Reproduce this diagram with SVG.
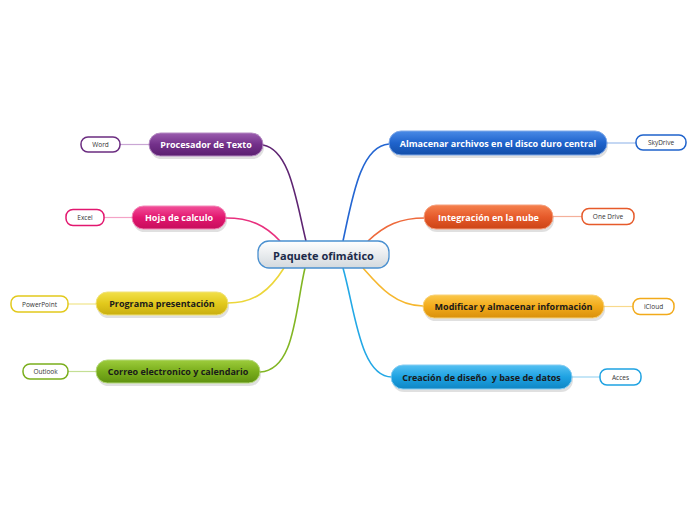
<svg xmlns="http://www.w3.org/2000/svg" width="696" height="520" viewBox="0 0 696 520">
<defs>
<linearGradient id="gc" x1="0" y1="0" x2="0" y2="1"><stop offset="0" stop-color="#ffffff"/><stop offset="1" stop-color="#d3d9de"/></linearGradient>
<linearGradient id="gPur" x1="0" y1="0" x2="0" y2="1"><stop offset="0" stop-color="#9a5cae"/><stop offset="0.5" stop-color="#73308a"/><stop offset="1" stop-color="#5b1f70"/></linearGradient>
<linearGradient id="gPink" x1="0" y1="0" x2="0" y2="1"><stop offset="0" stop-color="#f2509a"/><stop offset="0.5" stop-color="#e2176f"/><stop offset="1" stop-color="#c70d5c"/></linearGradient>
<linearGradient id="gYel" x1="0" y1="0" x2="0" y2="1"><stop offset="0" stop-color="#f2e04a"/><stop offset="0.5" stop-color="#e2c91c"/><stop offset="1" stop-color="#c9ae10"/></linearGradient>
<linearGradient id="gGrn" x1="0" y1="0" x2="0" y2="1"><stop offset="0" stop-color="#9dcc3c"/><stop offset="0.5" stop-color="#7aae1c"/><stop offset="1" stop-color="#5f9110"/></linearGradient>
<linearGradient id="gBlu" x1="0" y1="0" x2="0" y2="1"><stop offset="0" stop-color="#4a8ae6"/><stop offset="0.5" stop-color="#1f63cc"/><stop offset="1" stop-color="#134ea8"/></linearGradient>
<linearGradient id="gOrR" x1="0" y1="0" x2="0" y2="1"><stop offset="0" stop-color="#f5814e"/><stop offset="0.5" stop-color="#e65a2a"/><stop offset="1" stop-color="#cc4416"/></linearGradient>
<linearGradient id="gOr" x1="0" y1="0" x2="0" y2="1"><stop offset="0" stop-color="#fbc84a"/><stop offset="0.5" stop-color="#f2aa1a"/><stop offset="1" stop-color="#d9900c"/></linearGradient>
<linearGradient id="gLB" x1="0" y1="0" x2="0" y2="1"><stop offset="0" stop-color="#55c0f2"/><stop offset="0.5" stop-color="#1ea2e2"/><stop offset="1" stop-color="#0e86c4"/></linearGradient>
</defs>
<style>
text{font-family:"Open Sans","Noto Sans","Liberation Sans",sans-serif;text-anchor:middle;dominant-baseline:central;white-space:pre}
.m{font-size:9px;font-weight:bold}
.w{fill:#ffffff}
.d{fill:#1a1a1a}
.s{font-size:6.5px;fill:#333333}
.sub{fill:#ffffff;stroke-width:1.5}
.main{stroke-width:1}
.shadow{fill:#000000;opacity:0.12}
.c{fill:none;stroke-width:1.6}
.l{fill:none;stroke-width:1.2}
</style>
<g id="connectors">
<path class="c" d="M306,241 C296,200 290,150 263,145" stroke="#5e2472"/>
<path class="c" d="M280,241 C265,225 250,218 226,218" stroke="#e8307e"/>
<path class="c" d="M284,268 C270,290 255,303 228,303" stroke="#ecd63a"/>
<path class="c" d="M305,268 C295,310 295,370 260,372" stroke="#82b623"/>
<path class="c" d="M343,241 C352,200 360,146 389,144" stroke="#2466d2"/>
<path class="c" d="M368,241 C385,225 400,218 425,218" stroke="#ee6a3c"/>
<path class="c" d="M363,268 C378,285 395,306 423,306" stroke="#f6b72e"/>
<path class="c" d="M343,268 C355,310 360,377 392,377" stroke="#23a8e6"/>
<line class="l" x1="120" y1="144.5" x2="149" y2="144.5" stroke="#c9a6d4"/>
<line class="l" x1="104" y1="217.5" x2="132" y2="217.5" stroke="#f4a3c6"/>
<line class="l" x1="68" y1="304" x2="96" y2="304" stroke="#f0e48a"/>
<line class="l" x1="68" y1="371.5" x2="96" y2="371.5" stroke="#c4df94"/>
<line class="l" x1="607" y1="143" x2="636" y2="143" stroke="#9dbdec"/>
<line class="l" x1="553" y1="216.5" x2="582" y2="216.5" stroke="#f4b09a"/>
<line class="l" x1="604" y1="306.5" x2="633" y2="306.5" stroke="#f8d98c"/>
<line class="l" x1="572" y1="377" x2="600" y2="377" stroke="#9ed6f2"/>
</g>
<g id="central">
<rect x="258" y="241" width="131" height="27" rx="11" fill="url(#gc)" stroke="#4a90d0" stroke-width="1.3"/>
<text x="323.5" y="255" style="font-size:11px;font-weight:bold;fill:#1c2a4a">Paquete ofimático</text>
</g>
<g id="procesador">
<rect class="shadow" x="150" y="136" width="114" height="23" rx="11.5"/>
<rect class="main" x="149" y="133" width="114" height="23" rx="11.5" fill="url(#gPur)" stroke="#b48ac2"/>
<text class="m w" x="206" y="144.5">Procesador de Texto</text>
</g>
<g id="word">
<rect class="sub" x="81" y="137" width="39" height="15" rx="7" stroke="#6b2c80"/>
<text class="s" x="100.5" y="144.5">Word</text>
</g>
<g id="hoja">
<rect class="shadow" x="133" y="209" width="94" height="23" rx="11.5"/>
<rect class="main" x="132" y="206" width="94" height="23" rx="11.5" fill="url(#gPink)" stroke="#f28ab8"/>
<text class="m w" x="179" y="217.5">Hoja de calculo</text>
</g>
<g id="excel">
<rect class="sub" x="66" y="209.5" width="38" height="16" rx="7" stroke="#e2176f"/>
<text class="s" x="85" y="217.5">Excel</text>
</g>
<g id="programa">
<rect class="shadow" x="97" y="295" width="132" height="23" rx="11.5"/>
<rect class="main" x="96" y="292" width="132" height="23" rx="11.5" fill="url(#gYel)" stroke="#f0e27a"/>
<text class="m d" x="162" y="303.5">Programa presentación</text>
</g>
<g id="powerpoint">
<rect class="sub" x="11" y="296" width="57" height="16" rx="7" stroke="#e2c91c"/>
<text class="s" x="39.5" y="304">PowerPoint</text>
</g>
<g id="correo">
<rect class="shadow" x="97" y="363" width="164" height="23" rx="11.5"/>
<rect class="main" x="96" y="360" width="164" height="23" rx="11.5" fill="url(#gGrn)" stroke="#b4d87a"/>
<text class="m d" x="178" y="371.5">Correo electronico y calendario</text>
</g>
<g id="outlook">
<rect class="sub" x="23" y="364" width="45" height="15" rx="7" stroke="#7aae1c"/>
<text class="s" x="45.5" y="371.5">Outlook</text>
</g>
<g id="almacenar">
<rect class="shadow" x="390" y="134" width="218" height="24" rx="12"/>
<rect class="main" x="389" y="131" width="218" height="24" rx="12" fill="url(#gBlu)" stroke="#7fa8e8"/>
<text class="m w" x="498" y="143">Almacenar archivos en el disco duro central</text>
</g>
<g id="skydrive">
<rect class="sub" x="636" y="135" width="50" height="15" rx="7" stroke="#1f63cc"/>
<text class="s" x="661" y="142.5">SkyDrive</text>
</g>
<g id="integracion">
<rect class="shadow" x="425" y="208" width="129" height="24" rx="12"/>
<rect class="main" x="424" y="205" width="129" height="24" rx="12" fill="url(#gOrR)" stroke="#f5a07e"/>
<text class="m w" x="488.5" y="217">Integración en la nube</text>
</g>
<g id="onedrive">
<rect class="sub" x="582" y="208.5" width="52" height="16" rx="7" stroke="#e65a2a"/>
<text class="s" x="608" y="216.5">One Drive</text>
</g>
<g id="modificar">
<rect class="shadow" x="424" y="298" width="181" height="23" rx="11.5"/>
<rect class="main" x="423" y="295" width="181" height="23" rx="11.5" fill="url(#gOr)" stroke="#f8d27a"/>
<text class="m d" x="513.5" y="306.5">Modificar y almacenar información</text>
</g>
<g id="icloud">
<rect class="sub" x="633" y="298.5" width="41" height="16" rx="7" stroke="#f2aa1a"/>
<text class="s" x="653.5" y="306.5">iCloud</text>
</g>
<g id="creacion">
<rect class="shadow" x="392" y="368" width="181" height="24" rx="12"/>
<rect class="main" x="391" y="365" width="181" height="24" rx="12" fill="url(#gLB)" stroke="#86cdf2"/>
<text class="m d" x="481.5" y="377">Creación de diseño  y base de datos</text>
</g>
<g id="acces">
<rect class="sub" x="600" y="369" width="41" height="16" rx="7" stroke="#1ea2e2"/>
<text class="s" x="620.5" y="377">Acces</text>
</g>
</svg>
